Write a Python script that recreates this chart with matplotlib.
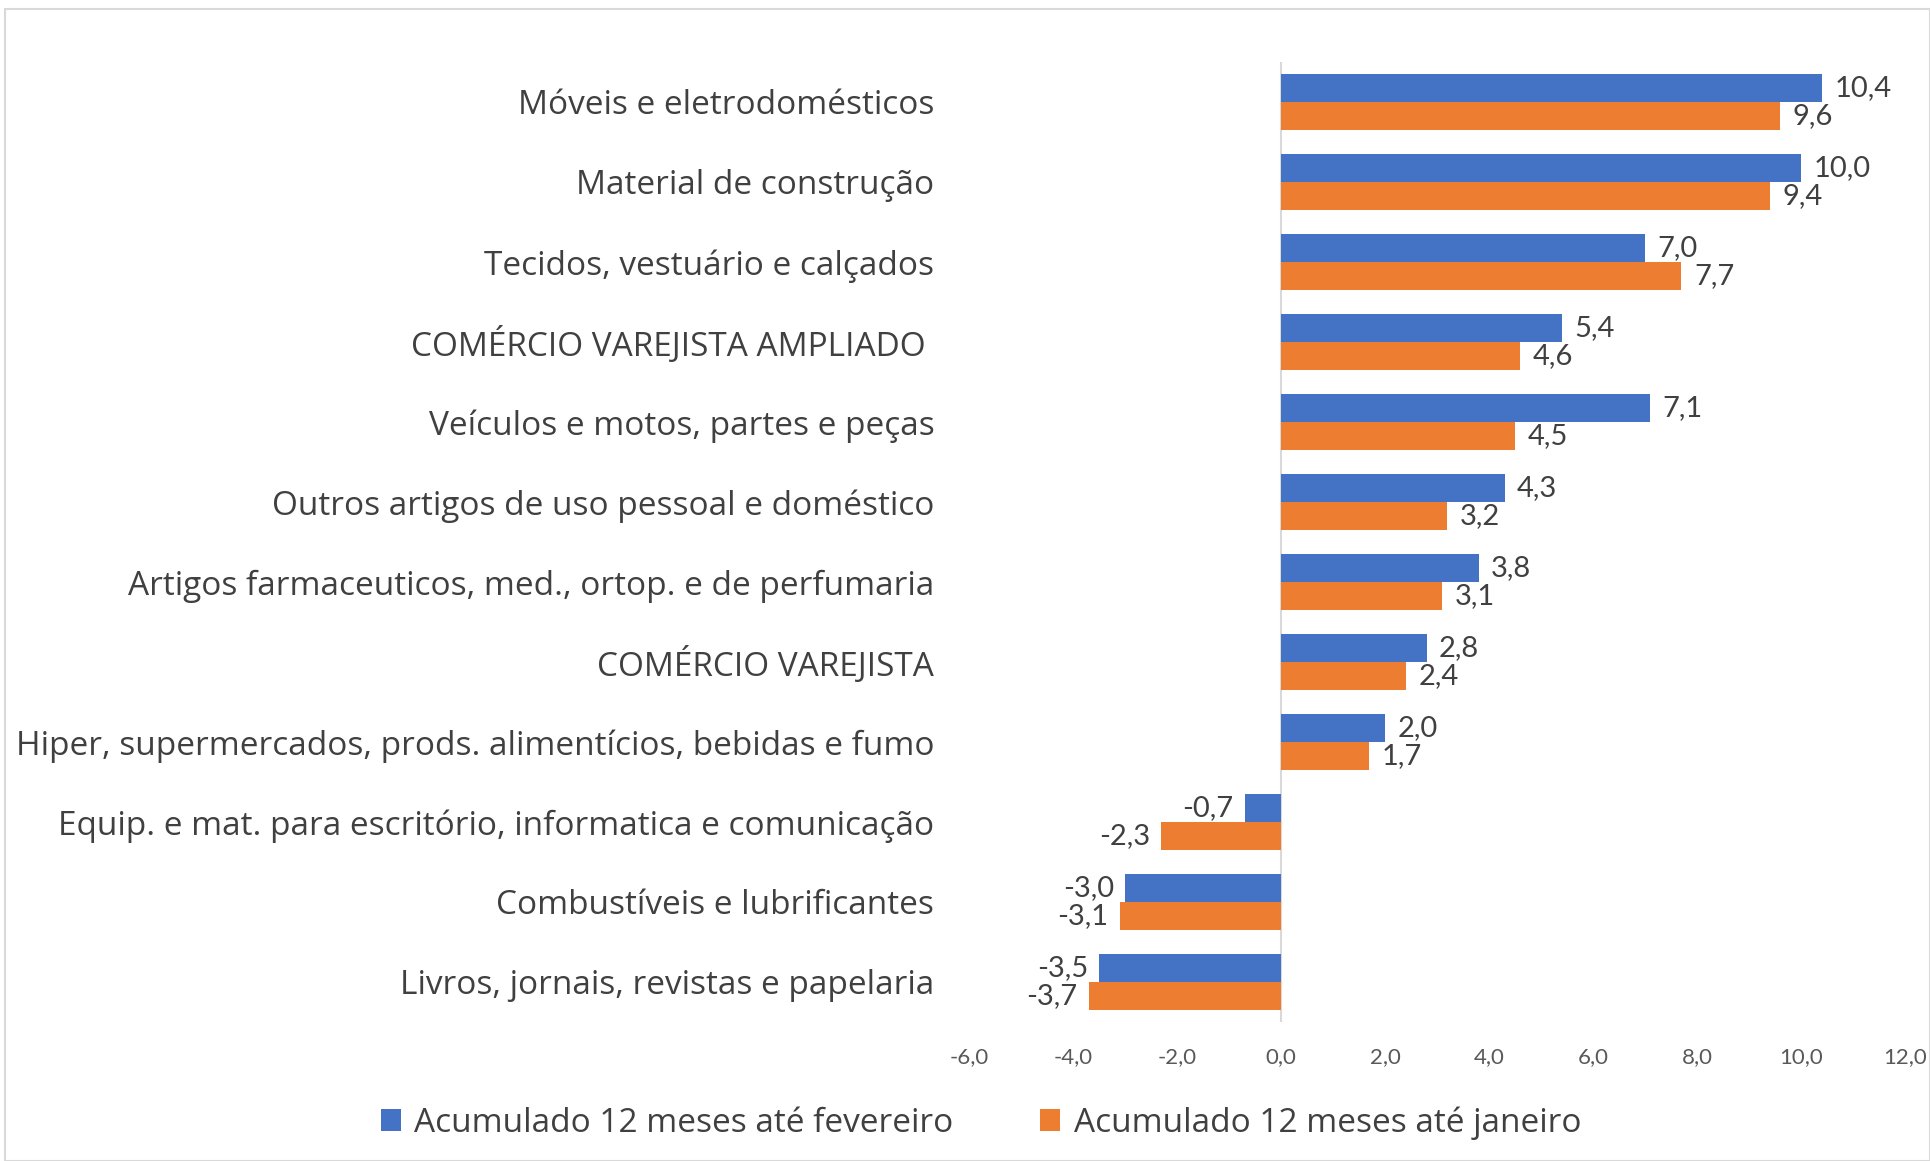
import matplotlib
matplotlib.use("Agg")
import matplotlib.pyplot as plt
import numpy as np

# categorias (de cima para baixo)
categorias = [
    "Móveis e eletrodomésticos",
    "Material de construção",
    "Tecidos, vestuário e calçados",
    "COMÉRCIO VAREJISTA AMPLIADO ",
    "Veículos e motos, partes e peças",
    "Outros artigos de uso pessoal e doméstico",
    "Artigos farmaceuticos, med., ortop. e de perfumaria",
    "COMÉRCIO VAREJISTA",
    "Hiper, supermercados, prods. alimentícios, bebidas e fumo",
    "Equip. e mat. para escritório, informatica e comunicação",
    "Combustíveis e lubrificantes",
    "Livros, jornais, revistas e papelaria",
]
fevereiro = [10.4, 10.0, 7.0, 5.4, 7.1, 4.3, 3.8, 2.8, 2.0, -0.7, -3.0, -3.5]
janeiro = [9.6, 9.4, 7.7, 4.6, 4.5, 3.2, 3.1, 2.4, 1.7, -2.3, -3.1, -3.7]
nome_fev = "Acumulado 12 meses até fevereiro"
nome_jan = "Acumulado 12 meses até janeiro"
ticks_x = [-6, -4, -2, 0, 2, 4, 6, 8, 10, 12]

azul = "#4472C4"
laranja = "#ED7D31"
cinza_txt = "#404040"

def virgula(v):
    return f"{v:.1f}".replace(".", ",")

fig = plt.figure(figsize=(19.3, 11.61), dpi=100)
fig.patch.set_facecolor("white")
ax = fig.add_axes([969/1930, 1 - 1022/1161, (1905-969)/1930, (1022-62)/1161])

n = len(categorias)
y = np.arange(n)
h = 0.35
b1 = ax.barh(y - h/2, fevereiro, height=h, color=azul, label=nome_fev)
b2 = ax.barh(y + h/2, janeiro, height=h, color=laranja, label=nome_jan)
ax.set_ylim(n - 0.5, -0.5)
ax.set_xlim(-6, 12)

for barras, vals in [(b1, fevereiro), (b2, janeiro)]:
    for r, v in zip(barras, vals):
        yc = r.get_y() + r.get_height()/2
        if v >= 0:
            ax.annotate(virgula(v), (v, yc), xytext=(9, 0), textcoords="offset points",
                        ha="left", va="center", fontsize=21, color=cinza_txt, family="Lato")
        else:
            ax.annotate(virgula(v), (v, yc), xytext=(-8, 0), textcoords="offset points",
                        ha="right", va="center", fontsize=21, color=cinza_txt, family="Lato")

ax.axvline(0, color="#d9d9d9", lw=1.5, zorder=0)
for s in ax.spines.values():
    s.set_visible(False)
ax.set_yticks(y)
ax.set_yticklabels(categorias, fontsize=24, color=cinza_txt, family="Open Sans")
ax.tick_params(axis="y", length=0, pad=25)
ax.set_xticks(ticks_x)
ax.set_xticklabels([virgula(t) for t in ticks_x], fontsize=16, color="#595959",
                   family=["Liberation Sans Narrow", "Lato"])
ax.tick_params(axis="x", length=0, pad=18)

leg = fig.legend(loc="center", bbox_to_anchor=(981/1930, 1 - 1123/1161), ncol=2,
                 frameon=False, prop={"family": "Open Sans", "size": 24},
                 handlelength=0.6, handleheight=0.6, columnspacing=2.6, handletextpad=0.4)
for t in leg.get_texts():
    t.set_color(cinza_txt)

# moldura
fig.add_artist(plt.Rectangle((5/1930, 0), 1 - 5/1930, 1 - 9/1161, transform=fig.transFigure,
                             fill=False, edgecolor="#d9d9d9", lw=1.5))

fig.savefig("out.png", dpi=100)
